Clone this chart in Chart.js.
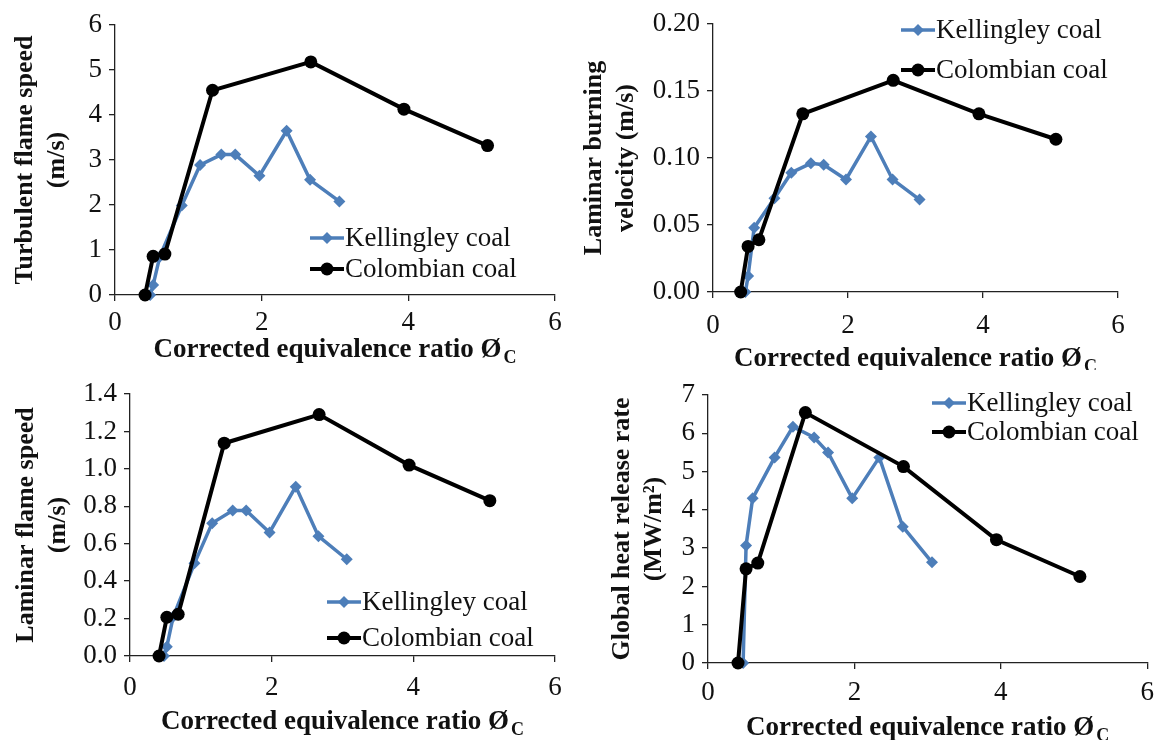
<!DOCTYPE html>
<html>
<head>
<meta charset="utf-8">
<script src="https://cdn.jsdelivr.net/npm/chart.js@4.4.0/dist/chart.umd.min.js"></script>
<style>
	html, body { margin: 0; padding: 0; background: #fff; }
	body { width: 1162px; height: 740px; position: relative; overflow: hidden; }
	canvas { position: absolute; }
</style>
</head>
<body>
<canvas id="c1"></canvas>
<canvas id="c2"></canvas>
<canvas id="c3"></canvas>
<canvas id="c4"></canvas>
<script>
// corrected equivalence ratio for each coal
const kellX = [0.48, 0.52, 0.61, 0.91, 1.16, 1.45, 1.64, 1.97, 2.34, 2.66, 3.06];
const colX = [0.41, 0.52, 0.68, 1.33, 2.67, 3.94, 5.08];

// turbulent flame speed (m/s)
const kellTurbulent = [0, 0.22, 0.85, 1.99, 2.89, 3.12, 3.12, 2.65, 3.65, 2.56, 2.08];
const colTurbulent = [0, 0.86, 0.91, 4.55, 5.18, 4.13, 3.32];

// laminar burning velocity (m/s)
const kellBurning = [0, 0.012, 0.048, 0.070, 0.089, 0.096, 0.095, 0.084, 0.116, 0.084, 0.069];
const colBurning = [0, 0.034, 0.039, 0.133, 0.158, 0.133, 0.114];

// laminar flame speed (m/s)
const kellLaminar = [0, 0.05, 0.21, 0.495, 0.71, 0.777, 0.777, 0.66, 0.905, 0.64, 0.517];
const colLaminar = [0, 0.207, 0.223, 1.137, 1.29, 1.02, 0.83];

// global heat release rate (MW/m2)
const kellHeat = [0, 3.07, 4.30, 5.37, 6.17, 5.89, 5.50, 4.30, 5.37, 3.56, 2.63];
const colHeat = [0, 2.46, 2.61, 6.54, 5.13, 3.22, 2.26];

const seriesNames = ["Kellingley coal", "Colombian coal"];
const xTitle = "Corrected equivalence ratio Ø";
const xTitleSub = "C";

const serif = "'Liberation Serif', 'Times New Roman', serif";
const blue = "#4d7eb9";
const ink = "#111";

function pts(xs, ys) {
	return xs.map((x, i) => ({ x: x, y: ys[i] }));
}

// box = canvas on the page, area = plot area on the page
const panels = [
	{
		id: "c1", kell: kellTurbulent, col: colTurbulent,
		box: { left: 0, top: 0, w: 575, h: 370 },
		area: { left: 115, top: 25, right: 555, bottom: 295 },
		ymax: 6, step: 1, dec: 0,
		ytitle: ["Turbulent flame speed", "(m/s)"], ytitleX: 25,
		xtitleY: 348, xtickPad: 6,
		legend: { x: 310, y: 238, dy: 31 },
	},
	{
		id: "c2", kell: kellBurning, col: colBurning,
		box: { left: 570, top: 0, w: 592, h: 370 },
		area: { left: 713, top: 24, right: 1118, bottom: 292 },
		ymax: 0.2, step: 0.05, dec: 2,
		ytitle: ["Laminar burning", "velocity (m/s)"], ytitleX: 594,
		xtitleY: 357, xtickPad: 12,
		legend: { x: 901, y: 30, dy: 40 },
	},
	{
		id: "c3", kell: kellLaminar, col: colLaminar,
		box: { left: 0, top: 370, w: 575, h: 370 },
		area: { left: 130, top: 394, right: 555, bottom: 656 },
		ymax: 1.4, step: 0.2, dec: 1,
		ytitle: ["Laminar flame speed", "(m/s)"], ytitleX: 26,
		xtitleY: 720, xtickPad: 10,
		legend: { x: 327, y: 602, dy: 36 },
	},
	{
		id: "c4", kell: kellHeat, col: colHeat,
		box: { left: 592, top: 370, w: 570, h: 370 },
		area: { left: 708, top: 395, right: 1150, bottom: 663 },
		ymax: 7, step: 1, dec: 0,
		ytitle: ["Global heat release rate", "(MW/m²)"], ytitleX: 622,
		xtitleY: 726, xtickPad: 8,
		legend: { x: 932, y: 403, dy: 29 },
	},
];

function marker(ctx, style, x, y, r) {
	ctx.beginPath();
	if (style == "rectRot") {
		ctx.moveTo(x, y - r);
		ctx.lineTo(x + r, y);
		ctx.lineTo(x, y + r);
		ctx.lineTo(x - r, y);
		ctx.closePath();
	} else {
		ctx.arc(x, y, r, 0, Math.PI * 2);
	}
	ctx.fill();
}

function makeTextPlugin(p) {
	return {
		id: "panelText",
		afterDraw(chart) {
			const ctx = chart.ctx;
			ctx.save();
			// legend
			const len = 34;
			chart.data.datasets.forEach((ds, i) => {
				const x0 = p.legend.x - p.box.left;
				const y = p.legend.y - p.box.top + i * p.legend.dy;
				ctx.strokeStyle = ds.borderColor;
				ctx.lineWidth = ds.borderWidth;
				ctx.beginPath();
				ctx.moveTo(x0, y);
				ctx.lineTo(x0 + len, y);
				ctx.stroke();
				ctx.fillStyle = ds.backgroundColor;
				marker(ctx, ds.pointStyle, x0 + len / 2, y, ds.pointRadius);
				ctx.fillStyle = ink;
				ctx.font = `27px ${serif}`;
				ctx.textAlign = "left";
				ctx.textBaseline = "middle";
				ctx.fillText(ds.label, x0 + len + 1, y + 1);
			});
			// x title with subscript
			const area = chart.chartArea;
			const cx = (area.left + area.right) / 2;
			const y = p.xtitleY - p.box.top;
			ctx.font = `bold 27px ${serif}`;
			const w1 = ctx.measureText(xTitle).width;
			ctx.font = `bold 18px ${serif}`;
			const w2 = ctx.measureText(xTitleSub).width;
			const start = cx - (w1 + w2 + 2) / 2;
			ctx.fillStyle = ink;
			ctx.textAlign = "left";
			ctx.textBaseline = "alphabetic";
			ctx.font = `bold 27px ${serif}`;
			ctx.fillText(xTitle, start, y + 9);
			ctx.font = `bold 18px ${serif}`;
			ctx.fillText(xTitleSub, start + w1 + 2, y + 15);
			ctx.restore();
		},
	};
}

function drawPanel(p) {
	const canvas = document.getElementById(p.id);
	canvas.width = p.box.w;
	canvas.height = p.box.h;
	canvas.style.left = p.box.left + "px";
	canvas.style.top = p.box.top + "px";

	const lineH = 32;
	const titlePad = p.ytitleX - p.box.left - lineH / 2;

	const config = {
		type: "line",
		data: {
			datasets: [
				{
					label: seriesNames[0],
					data: pts(kellX, p.kell),
					borderColor: blue,
					backgroundColor: blue,
					borderWidth: 3.5,
					pointStyle: "rectRot",
					pointRadius: 6,
					pointBorderWidth: 0,
					order: 1,
					clip: false,
				},
				{
					label: seriesNames[1],
					data: pts(colX, p.col),
					borderColor: "#000",
					backgroundColor: "#000",
					borderWidth: 4,
					pointStyle: "circle",
					pointRadius: 6.5,
					pointBorderWidth: 0,
					order: 0,
					clip: false,
				},
			],
		},
		options: {
			responsive: false,
			animation: false,
			layout: {
				padding: {
					left: 0,
					bottom: 0,
					top: p.area.top - p.box.top,
					right: p.box.left + p.box.w - p.area.right,
				},
			},
			plugins: {
				legend: { display: false },
				tooltip: { enabled: false },
			},
			scales: {
				x: {
					type: "linear",
					min: 0,
					max: 6,
					ticks: { stepSize: 2, autoSkip: false, maxRotation: 0, color: ink, padding: p.xtickPad, font: { family: serif, size: 27 } },
					grid: { drawOnChartArea: false, drawTicks: true, tickLength: 6, color: "#222", lineWidth: 1.3 },
					border: { color: "#222", width: 1.3 },
					afterFit: (s) => { s.height = p.box.top + p.box.h - p.area.bottom; },
				},
				y: {
					type: "linear",
					min: 0,
					max: p.ymax,
					ticks: {
						stepSize: p.step,
						color: ink,
						padding: 7,
						font: { family: serif, size: 27 },
						callback: (v) => Number(v).toFixed(p.dec),
					},
					grid: { drawOnChartArea: false, drawTicks: true, tickLength: 6, color: "#222", lineWidth: 1.3 },
					border: { color: "#222", width: 1.3 },
					title: {
						display: true,
						text: p.ytitle,
						color: ink,
						font: { family: serif, size: 26, weight: "bold", lineHeight: lineH / 26 },
						padding: { top: titlePad, bottom: 0 },
					},
					afterFit: (s) => { s.width = p.area.left - p.box.left; },
				},
			},
		},
		plugins: [makeTextPlugin(p)],
	};

	new Chart(canvas, config);
}

panels.forEach(drawPanel);
</script>
</body>
</html>
